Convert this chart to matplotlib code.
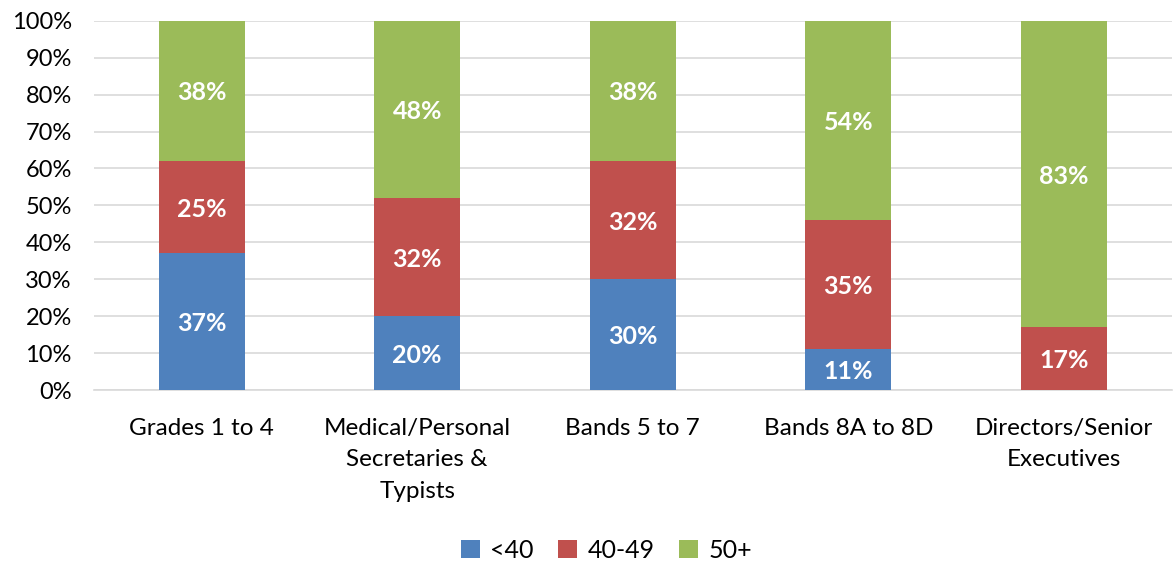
import matplotlib
matplotlib.use("Agg")
import matplotlib.pyplot as plt
import numpy as np

plt.rcParams['font.family'] = ['Lato', 'DejaVu Sans']

categories = ["Grades 1 to 4", "Medical/Personal\nSecretaries &\nTypists",
              "Bands 5 to 7", "Bands 8A to 8D", "Directors/Senior\nExecutives"]
under_40 = [37, 20, 30, 11, 0]
age_40_49 = [25, 32, 32, 35, 17]
over_50 = [38, 48, 38, 54, 83]

series = [("<40", under_40, "#4F81BD"),
          ("40-49", age_40_49, "#C0504D"),
          ("50+", over_50, "#9BBB59")]

fig = plt.figure(figsize=(11.74, 5.62), dpi=100)
ax = fig.add_axes([0.080, 0.306, 0.918, 0.657])

x = np.arange(len(categories))
bottom = np.zeros(len(categories))
handles = []
for name, vals, color in series:
    vals = np.array(vals, dtype=float)
    bars = ax.bar(x, vals, width=0.4, bottom=bottom, color=color, label=name, zorder=3)
    handles.append(bars)
    for xi, v, b in zip(x, vals, bottom):
        if v > 0:
            ax.text(xi, b + v / 2, f"{int(v)}%", ha="center", va="center_baseline",
                    color="white", fontsize=18, fontweight="bold", zorder=4)
    bottom += vals

ax.set_xlim(-0.5, len(categories) - 0.5)
ax.set_ylim(0, 100)
ax.set_yticks(np.arange(0, 101, 10))
ax.set_yticklabels([f"{t}%" for t in range(0, 101, 10)])
ax.set_xticks(x)
ax.set_xticklabels(categories, linespacing=1.62)
ax.tick_params(axis="both", length=0, colors="black")
ax.tick_params(axis="x", pad=20, labelsize=17.5)
ax.tick_params(axis="y", pad=16, labelsize=17)
ax.grid(axis="y", color="#D9D9D9", linewidth=1.2, zorder=0)
for s in ["top", "right", "left"]:
    ax.spines[s].set_visible(False)
ax.spines["bottom"].set_color("#D9D9D9")
ax.spines["bottom"].set_linewidth(1.2)

fig.legend(handles=handles, labels=[s[0] for s in series], loc="center",
           bbox_to_anchor=(0.5166, 0.021), ncol=3, frameon=False, fontsize=18,
           handlelength=0.75, handleheight=0.75, handletextpad=0.4, columnspacing=1.0)

fig.savefig("out.png", dpi=100)
